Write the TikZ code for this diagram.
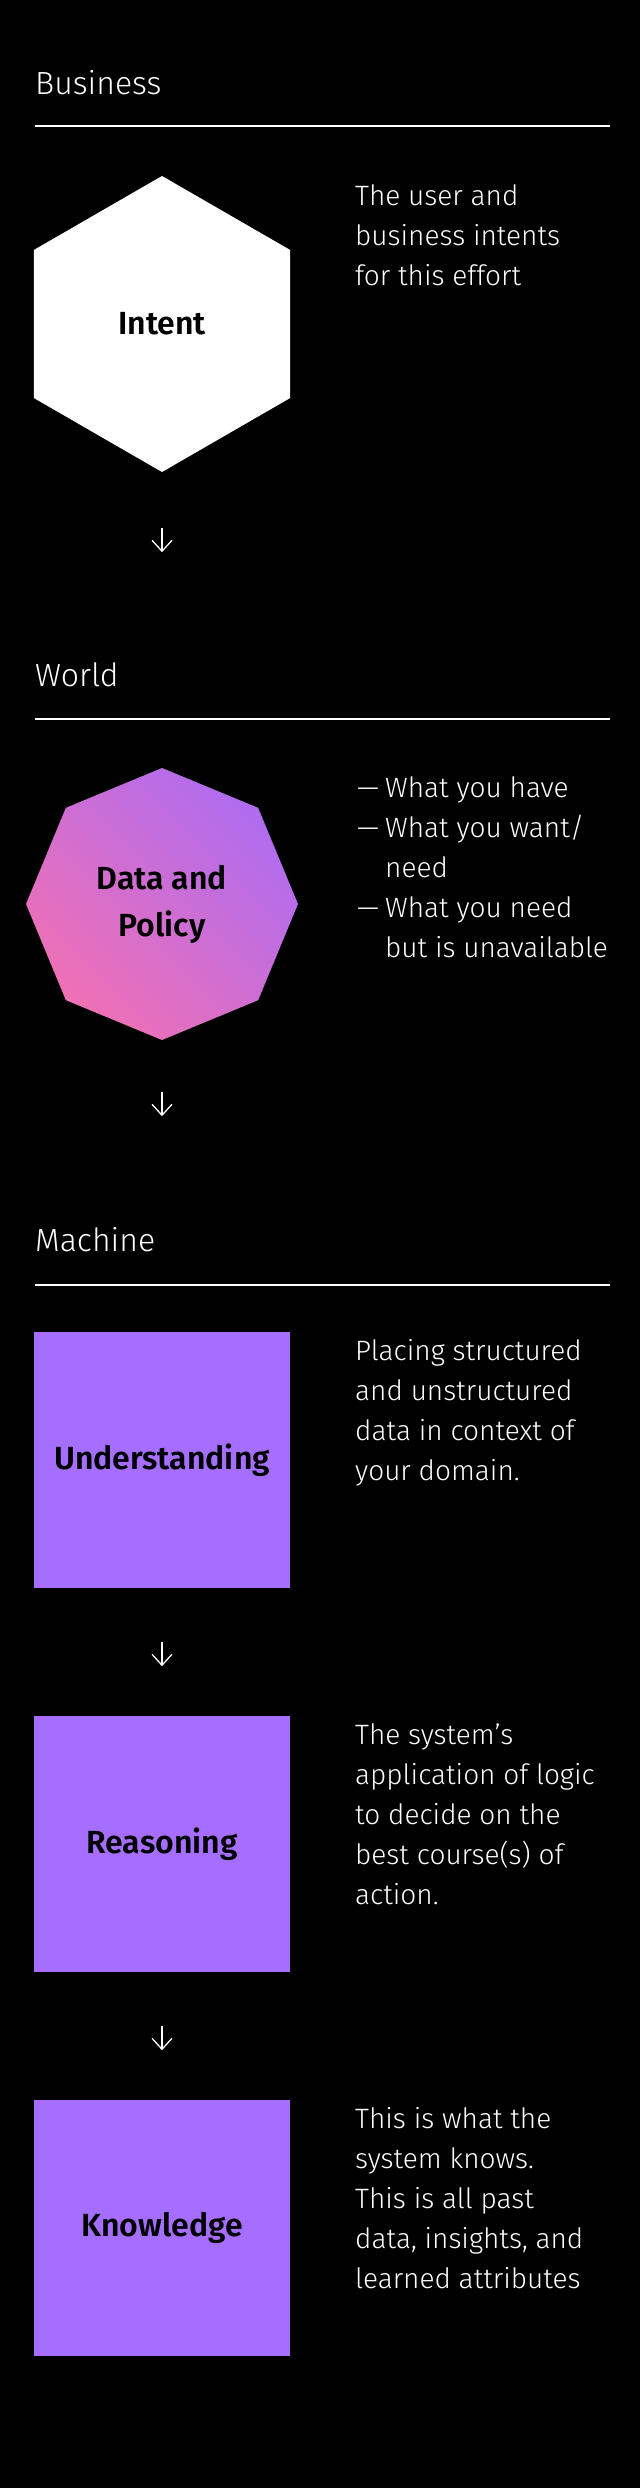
\documentclass[tikz,border=0pt]{standalone}
\usepackage{fontspec}
\setmainfont{Fira Sans Light}[BoldFont={Fira Sans SemiBold}]
\definecolor{main}{RGB}{165,110,255}
\definecolor{second}{RGB}{240,112,180}
\definecolor{third}{RGB}{174,108,240}
\usetikzlibrary{
	arrows.meta,
	positioning,
	shapes.geometric,
	calc
}
\tikzset{
  % arrow
	cstda/.style      ={-{Straight Barb[length=11pt,width=20pt]}, line width=1.3pt, white}, % down arrow
  % line
	cstrule/.style    ={white, line width=2pt},
  % text
	csttitle/.style   ={text=white, anchor=base west, inner sep=0pt, font=\fontsize{32}{40}\selectfont},
	cstdesc/.style    ={text=white, anchor=base west, inner sep=0pt, align=left, font=\fontsize{28}{40}\selectfont}, % anchored at last line
  % node
	cstnode/.style    ={text=black, inner sep=0pt, align=center, font=\bfseries\fontsize{32}{47}\selectfont},
	csthex/.style     ={cstnode, fill=white, regular polygon, regular polygon sides=6, shape border rotate=30, minimum size=296pt},
	cstoct/.style     ={cstnode, regular polygon, regular polygon sides=8, shape border rotate=22.5, minimum size=272pt,
	                    top color=third, bottom color=second, shading angle=-45},
	cstsq/.style      ={cstnode, fill=main, minimum size=256pt}
}
\newcommand{\dashitem}{\makebox[28pt][l]{—}}
\newcommand{\dashgap}{\hspace*{28pt}}

\begin{document}
\begin{tikzpicture}[x=1pt,y=-1pt]
	\path[fill=black,use as bounding box] (0,0) rectangle (640,2488);
	% Business
	\node[csttitle] (business) at (35,95) {Business};
	\draw[cstrule] (35,126) -- (610,126);
	\node[csthex] (intent) at (162,324) {Intent};
	\node[cstdesc] (intentdesc) at (355,286) {The user and\\business intents\\for this effort};
	\draw[cstda] ([yshift=-56pt]intent.south) -- ([yshift=-80pt]intent.south);
	% World
	\node[csttitle] (world) at (35,686) {World};
	\draw[cstrule] (35,719) -- (610,719);
	\node[cstoct] (data) at (162,904) {Data and\\Policy};
	\node[cstdesc] (datadesc) at (357,957) {\dashitem What you have\\\dashitem What you want/\\\dashgap need\\\dashitem What you need\\\dashgap but is unavailable};
	\draw[cstda] ([yshift=-52pt]data.south) -- ([yshift=-76pt]data.south);
	% Machine
	\node[csttitle] (machine) at (35,1251) {Machine};
	\draw[cstrule] (35,1285) -- (610,1285);
	\node[cstsq] (understand) at (162,1460) {Understanding};
	\node[cstdesc] (understanddesc) at (355,1480) {Placing structured\\and unstructured\\data in context of\\your domain.};
	\draw[cstda] ([yshift=-54pt]understand.south) -- ([yshift=-78pt]understand.south);
	\node[cstsq] (reason) at (162,1844) {Reasoning};
	\node[cstdesc] (reasondesc) at (355,1904) {The system’s\\application of logic\\to decide on the\\best course(s) of\\action.};
	\draw[cstda] ([yshift=-54pt]reason.south) -- ([yshift=-78pt]reason.south);
	\node[cstsq] (know) at (162,2228) {Knowledge};
	\node[cstdesc] (knowdesc) at (355,2288) {This is what the\\system knows.\\This is all past\\data, insights, and\\learned attributes};
\end{tikzpicture}
\end{document}
